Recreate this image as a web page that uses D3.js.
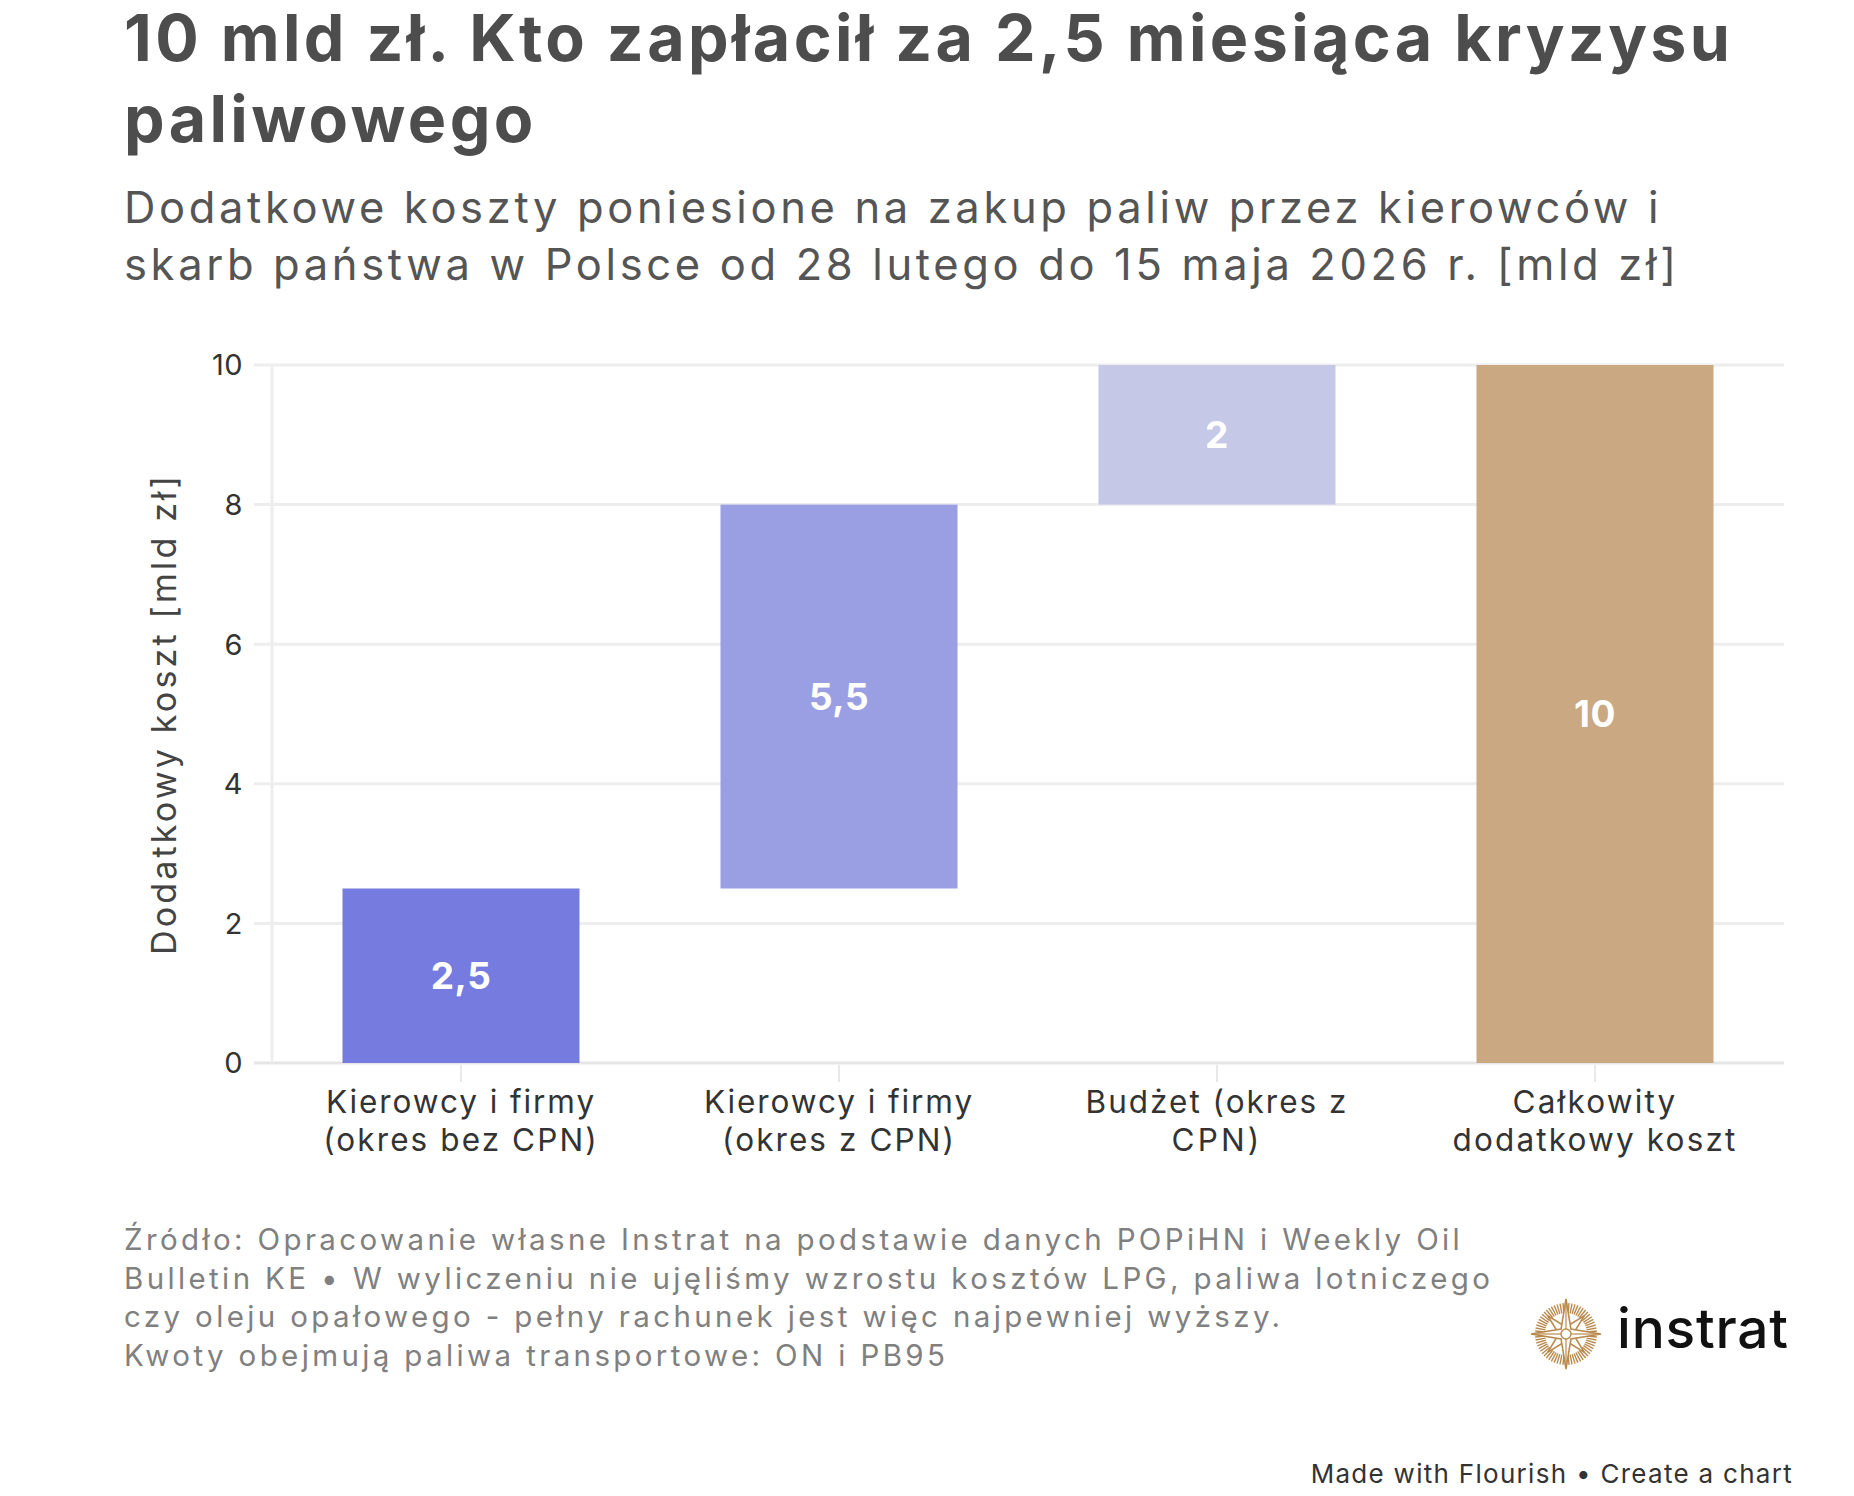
<!DOCTYPE html>
<html>
<head>
<meta charset="utf-8">
<script src="https://cdn.jsdelivr.net/npm/d3@7"></script>
<style>
  body { margin: 0; background: #fff; }
  svg { display: block; font-family: Inter, "Open Sans", sans-serif; }
</style>
</head>
<body>
<div class="canvas"></div>
<script>
// data
const categories = [
  ["Kierowcy i firmy", "(okres bez CPN)"],
  ["Kierowcy i firmy", "(okres z CPN)"],
  ["Budżet (okres z", "CPN)"],
  ["Całkowity", "dodatkowy koszt"]
];
const values = [2.5, 5.5, 2, 10];
const isTotal = [false, false, false, true];
const valueLabels = ["2,5", "5,5", "2", "10"];
const yTicks = [0, 2, 4, 6, 8, 10];

const barColors = ["#757bdf", "#9a9fe4", "#c6c8e8", "#c9a882"];

const titleLines = ["10 mld zł. Kto zapłacił za 2,5 miesiąca kryzysu", "paliwowego"];
const subtitleLines = [
  "Dodatkowe koszty poniesione na zakup paliw przez kierowców i",
  "skarb państwa w Polsce od 28 lutego do 15 maja 2026 r. [mld zł]"
];
const sourceLines = [
  "Źródło: Opracowanie własne Instrat na podstawie danych POPiHN i Weekly Oil",
  "Bulletin KE • W wyliczeniu nie ujęliśmy wzrostu kosztów LPG, paliwa lotniczego",
  "czy oleju opałowego - pełny rachunek jest więc najpewniej wyższy.",
  "Kwoty obejmują paliwa transportowe: ON i PB95"
];

const width = 1854;
const height = 1496;

const svg = d3.select(".canvas")
  .append("svg")
  .attr("width", width)
  .attr("height", height);

// the original font is wider, so open up letter spacing to hit the measured width
function spacingFor(node, target) {
  const w = node.getComputedTextLength();
  const n = node.textContent.length;
  return (target - w) / Math.max(1, n - 1);
}

// title
const title = svg.append("g").attr("fill", "#4d4d4d").attr("font-weight", 700).attr("font-size", 64.5);
const t1 = title.append("text").attr("x", 124).attr("y", 61).text(titleLines[0]);
const titleLs = spacingFor(t1.node(), 1606);
t1.attr("letter-spacing", titleLs);
title.append("text").attr("x", 124).attr("y", 142).attr("letter-spacing", titleLs).text(titleLines[1]);

// subtitle
const sub = svg.append("g").attr("fill", "#555").attr("font-size", 43.5);
const s2 = sub.append("text").attr("x", 124).attr("y", 280).text(subtitleLines[1]);
const subLs = spacingFor(s2.node(), 1552);
s2.attr("letter-spacing", subLs);
sub.append("text").attr("x", 124).attr("y", 223).attr("letter-spacing", subLs).text(subtitleLines[0]);

// chart
const plot = { left: 272, right: 1784, top: 365, bottom: 1063 };

const x = d3.scaleBand()
  .domain(d3.range(values.length))
  .range([plot.left, plot.right])
  .paddingInner(0.373)
  .paddingOuter(0.1865);

const y = d3.scaleLinear()
  .domain([0, 10])
  .range([plot.bottom, plot.top]);

let running = 0;
const bars = values.map((v, i) => {
  const start = isTotal[i] ? 0 : running;
  if (!isTotal[i]) running += v;
  return { i, start, end: start + v, label: valueLabels[i] };
});

// gridlines
svg.append("g")
  .selectAll("line")
  .data(yTicks)
  .enter()
  .append("line")
  .attr("x1", plot.left - 18)
  .attr("x2", plot.right)
  .attr("y1", d => y(d))
  .attr("y2", d => y(d))
  .attr("stroke", d => d === 0 ? "#e6e6e6" : "#ededed")
  .attr("stroke-width", 3);

// y axis line
svg.append("line")
  .attr("x1", plot.left).attr("x2", plot.left)
  .attr("y1", y(10)).attr("y2", y(0))
  .attr("stroke", "#ededed")
  .attr("stroke-width", 3);

// y tick labels
svg.append("g")
  .selectAll("text")
  .data(yTicks)
  .enter()
  .append("text")
  .attr("x", 243)
  .attr("y", d => y(d))
  .attr("dy", "0.36em")
  .attr("text-anchor", "end")
  .attr("font-size", 29)
  .attr("letter-spacing", 0.5)
  .attr("fill", "#333")
  .text(d => d);

// y axis title
const yTitle = svg.append("text")
  .attr("transform", `translate(176, ${(plot.top + plot.bottom) / 2}) rotate(-90)`)
  .attr("text-anchor", "middle")
  .attr("font-size", 34)
  .attr("fill", "#444")
  .text("Dodatkowy koszt [mld zł]");
yTitle.attr("letter-spacing", spacingFor(yTitle.node(), 479));

// x ticks
svg.append("g")
  .selectAll("line")
  .data(bars)
  .enter()
  .append("line")
  .attr("x1", d => x(d.i) + x.bandwidth() / 2)
  .attr("x2", d => x(d.i) + x.bandwidth() / 2)
  .attr("y1", plot.bottom + 2)
  .attr("y2", plot.bottom + 19)
  .attr("stroke", "#e8e8e8")
  .attr("stroke-width", 2);

// x labels
const xl = svg.append("g")
  .selectAll("text")
  .data(categories)
  .enter()
  .append("text")
  .attr("text-anchor", "middle")
  .attr("font-size", 31.5)
  .attr("fill", "#333");
xl.selectAll("tspan")
  .data((d, i) => d.map(line => ({ line, i })))
  .enter()
  .append("tspan")
  .attr("x", d => x(d.i) + x.bandwidth() / 2)
  .attr("y", (d, j) => 1113 + j * 38)
  .text(d => d.line)
  .each(function() {
    const w = this.getComputedTextLength();
    d3.select(this).attr("letter-spacing", spacingFor(this, w * 1.12));
  });

// bars
svg.append("g")
  .selectAll("rect")
  .data(bars)
  .enter()
  .append("rect")
  .attr("x", d => x(d.i))
  .attr("width", x.bandwidth())
  .attr("y", d => y(d.end))
  .attr("height", d => y(d.start) - y(d.end))
  .attr("fill", d => barColors[d.i]);

// bar value labels
svg.append("g")
  .selectAll("text")
  .data(bars)
  .enter()
  .append("text")
  .attr("x", d => x(d.i) + x.bandwidth() / 2)
  .attr("y", d => y((d.start + d.end) / 2))
  .attr("dy", "0.36em")
  .attr("text-anchor", "middle")
  .attr("font-size", 37)
  .attr("font-weight", 700)
  .attr("letter-spacing", 0.5)
  .attr("fill", "#fff")
  .text(d => d.label);

// source notes
const src = svg.append("g").attr("fill", "#808080").attr("font-size", 29.5);
const srcLine = src.append("text").attr("x", 124).attr("y", 1288).text(sourceLines[1]);
const srcLs = spacingFor(srcLine.node(), 1366);
srcLine.remove();
src.selectAll("text.s")
  .data(sourceLines)
  .enter()
  .append("text")
  .attr("class", "s")
  .attr("x", 124)
  .attr("y", (d, i) => 1250 + i * 38.7)
  .attr("letter-spacing", srcLs)
  .text(d => d);

// instrat logo
const gold = "#b98a4e";
const logo = svg.append("g").attr("transform", "translate(1566, 1334)");
logo.append("g")
  .selectAll("line")
  .data(d3.range(64))
  .enter()
  .append("line")
  .attr("x1", d => 21 * Math.cos(d / 64 * 2 * Math.PI))
  .attr("y1", d => 21 * Math.sin(d / 64 * 2 * Math.PI))
  .attr("x2", d => 31 * Math.cos(d / 64 * 2 * Math.PI))
  .attr("y2", d => 31 * Math.sin(d / 64 * 2 * Math.PI))
  .attr("stroke", gold)
  .attr("stroke-width", 1.4);

function starPath(outer, inner, rot) {
  const pts = [];
  for (let k = 0; k < 8; k++) {
    const r = k % 2 === 0 ? outer : inner;
    const a = rot + k * Math.PI / 4 - Math.PI / 2;
    pts.push([r * Math.cos(a), r * Math.sin(a)]);
  }
  return d3.line()(pts) + "Z";
}
logo.append("path")
  .attr("d", starPath(26, 7, Math.PI / 4))
  .attr("fill", "#fff")
  .attr("stroke", gold)
  .attr("stroke-width", 1.6);
logo.append("path")
  .attr("d", starPath(35, 7, 0))
  .attr("fill", "#fff")
  .attr("stroke", gold)
  .attr("stroke-width", 1.6);
logo.append("g")
  .selectAll("line")
  .data(d3.range(4))
  .enter()
  .append("line")
  .attr("x1", 0).attr("y1", 0)
  .attr("x2", d => 30 * Math.cos(d * Math.PI / 2))
  .attr("y2", d => 30 * Math.sin(d * Math.PI / 2))
  .attr("stroke", gold)
  .attr("stroke-width", 1.2);
logo.append("circle").attr("r", 5).attr("fill", "#fff").attr("stroke", gold).attr("stroke-width", 1.4);

const brand = svg.append("text")
  .attr("x", 1617).attr("y", 1348)
  .attr("font-size", 55)
  .attr("font-weight", 500)
  .attr("fill", "#111")
  .text("instrat");
brand.attr("letter-spacing", spacingFor(brand.node(), 171));

// footer
const foot = svg.append("text")
  .attr("x", 1793).attr("y", 1483)
  .attr("text-anchor", "end")
  .attr("font-size", 26)
  .attr("fill", "#333")
  .text("Made with Flourish • Create a chart");
foot.attr("letter-spacing", spacingFor(foot.node(), 481));
</script>
</body>
</html>
